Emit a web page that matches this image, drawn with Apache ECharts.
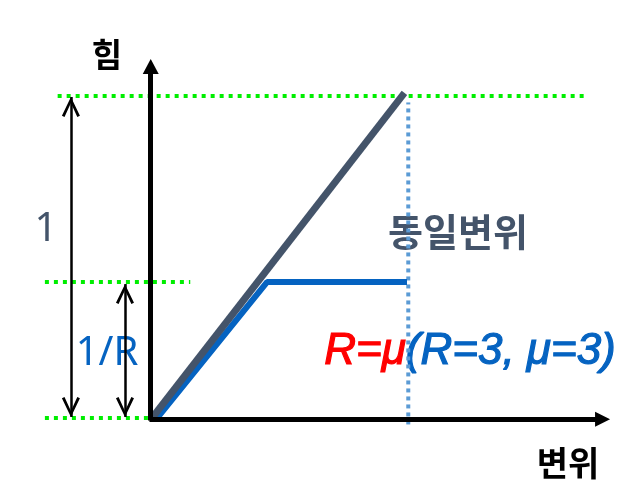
<!DOCTYPE html>
<html>
<head>
<meta charset="utf-8">
<script src="https://cdn.jsdelivr.net/npm/echarts@6/dist/echarts.min.js"></script>
<style>
  html, body { margin: 0; padding: 0; background: #fff; }
  #chart { width: 629px; height: 490px; }
</style>
</head>
<body>
<div id="chart"></div>
<script>
// 변위(x) / 힘(y), 원점 = 0, 최대 변위 = 1, 최대 힘 = 1
var peakLine = [[0, 0], [0.99, 1.01]];              // 동일변위 직선
var yieldLine = [[0.02, 0], [0.451, 0.422], [1.0, 0.422]]; // R=3 곡선

// 보조선 (점선)
var topGuide = [[-0.37, 1.0], [1.70, 1.0]];
var midGuide = [[-0.42, 0.422], [0.15, 0.422]];
var baseGuide = [[-0.42, 0.0], [0.0, 0.0]];
var dispGuide = [[1.005, -0.02], [1.005, 0.98]];

// 축 화살표
var yAxisArrow = [[-0.005, -0.008], [-0.005, 1.092]];
var xAxisArrow = [[-0.01, -0.004], [1.767, -0.004]];

// 치수 화살표
var forceArrow = [[-0.318, 0.003], [-0.318, 0.997]];
var ratioArrow = [[-0.106, 0.003], [-0.106, 0.416]];

// 열린 화살촉 (끝점이 도형 중심이 되도록 위쪽에 빈 점 추가)
var chevron = 'path://M0,-20L0.01,-20ZM0,0L9,18.5L6.4,19.8L0,6L-6.4,19.8L-9,18.5Z';

function seg(points) {
  return [[{ coord: points[0] }, { coord: points[1] }]];
}

function arrowSeries(points, width, color, symbol, size, both) {
  return {
    type: 'line',
    data: [],
    silent: true,
    markLine: {
      silent: true,
      animation: false,
      symbol: both ? [symbol, symbol] : ['none', symbol],
      symbolSize: size,
      label: { show: false },
      emphasis: { disabled: true },
      lineStyle: { color: color, width: width, type: 'solid', opacity: 1 },
      data: seg(points)
    }
  };
}

function guideSeries(points, color, width, dash) {
  return {
    type: 'line',
    data: points,
    silent: true,
    symbol: 'none',
    lineStyle: { color: color, width: width, type: dash },
    z: 1
  };
}

var chart = echarts.init(document.getElementById('chart'));

var option = {
  animation: false,
  grid: { left: 0, right: 0, top: 0, bottom: 0 },
  xAxis: { type: 'value', min: -0.59608, max: 1.87059, show: false },
  yAxis: { type: 'value', min: -0.22360, max: 1.29814, show: false },
  series: [
    guideSeries(topGuide, '#00ee00', 4, [4, 5]),
    guideSeries(midGuide, '#00ee00', 4, [4, 5]),
    guideSeries(baseGuide, '#00ee00', 4, [4, 5]),
    guideSeries(dispGuide, '#5b9bd5', 4, [4, 4]),
    arrowSeries(xAxisArrow, 5, '#000', 'triangle', [15, 15], false),
    arrowSeries(yAxisArrow, 5, '#000', 'triangle', [16, 15], false),
    arrowSeries(forceArrow, 2.5, '#000', chevron, [18, 40], true),
    arrowSeries(ratioArrow, 2.5, '#000', chevron, [18, 40], true),
    {
      type: 'line',
      data: yieldLine,
      silent: true,
      symbol: 'none',
      lineStyle: { color: '#0563c1', width: 6 },
      z: 3
    },
    {
      type: 'line',
      data: peakLine,
      silent: true,
      symbol: 'none',
      lineStyle: { color: '#44546a', width: 7 },
      z: 4
    }
  ],
  graphic: [
    {
      type: 'text', x: 107, y: 54,
      style: { text: '힘', fill: '#000', font: 'bold 33px "Noto Sans CJK KR"', align: 'center', verticalAlign: 'middle' }
    },
    {
      type: 'text', x: 568, y: 463,
      style: { text: '변위', fill: '#000', font: 'bold 34px "Noto Sans CJK KR"', align: 'center', verticalAlign: 'middle' }
    },
    {
      type: 'text', x: 458, y: 232,
      style: { text: '동일변위', fill: '#44546a', font: 'bold 38px "Noto Sans CJK KR"', align: 'center', verticalAlign: 'middle' }
    },
    {
      type: 'text', x: 46, y: 230,
      style: { text: '1', fill: '#44546a', font: '40px "Noto Sans"', align: 'center', verticalAlign: 'middle' }
    },
    {
      type: 'text', x: 107, y: 354,
      style: { text: '1/R', fill: '#0563c1', font: '40px "Noto Sans"', align: 'center', verticalAlign: 'middle' }
    },
    {
      type: 'text', x: 470, y: 352,
      style: {
        text: '{r|R=μ}{b|(R=3, μ=3)}',
        align: 'center', verticalAlign: 'middle',
        font: 'italic 44px "Liberation Sans"',
        rich: {
          r: { fill: '#ff0000', stroke: '#ff0000', lineWidth: 1.2, font: 'italic 44px "Liberation Sans"' },
          b: { fill: '#0563c1', stroke: '#0563c1', lineWidth: 1.2, font: 'italic 44px "Liberation Sans"' }
        }
      }
    }
  ]
};

chart.setOption(option);
</script>
</body>
</html>
